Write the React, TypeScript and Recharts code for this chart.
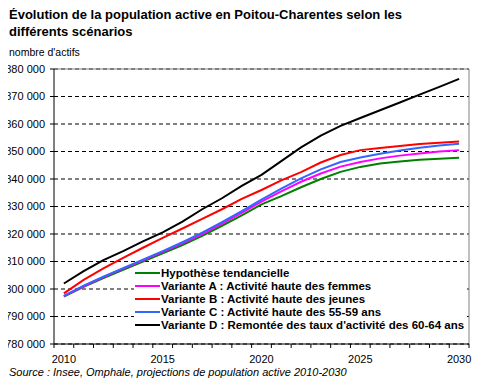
import { CartesianGrid, Legend, Line, LineChart, ReferenceLine, XAxis, YAxis } from 'recharts'

const years = [2010, 2011, 2012, 2013, 2014, 2015, 2016, 2017, 2018, 2019, 2020, 2021, 2022, 2023, 2024, 2025, 2026, 2027, 2028, 2029, 2030]

// en milliers d'actifs
const tendancielle = [797.2, 800.8, 804.0, 807.0, 810.0, 813.0, 816.0, 819.3, 823.0, 826.8, 830.8, 833.8, 837.0, 840.0, 842.6, 844.4, 845.6, 846.4, 847.0, 847.4, 847.7]
const varianteA = [797.4, 801.0, 804.3, 807.4, 810.4, 813.5, 816.6, 820.0, 823.8, 827.7, 831.8, 835.5, 839.0, 842.0, 844.5, 846.2, 847.5, 848.5, 849.3, 850.0, 850.5]
const varianteB = [798.4, 803.3, 807.5, 811.3, 815.0, 818.6, 822.0, 825.5, 829.0, 832.8, 836.0, 839.5, 842.5, 846.0, 848.7, 850.5, 851.3, 852.0, 852.7, 853.2, 853.6]
const varianteC = [797.5, 801.2, 804.5, 807.6, 810.7, 813.8, 817.0, 820.5, 824.3, 828.3, 832.5, 836.5, 840.2, 843.5, 846.2, 847.8, 849.2, 850.4, 851.4, 852.2, 852.8]
const varianteD = [802.0, 806.5, 810.5, 813.8, 817.3, 820.6, 824.5, 829.0, 833.0, 837.5, 841.5, 846.5, 851.5, 855.8, 859.3, 862.2, 865.0, 867.8, 870.7, 873.5, 876.4]

const yTicks = [780000, 790000, 800000, 810000, 820000, 830000, 840000, 850000, 860000, 870000, 880000]
const labelYears = [2010, 2015, 2020, 2025, 2030]

const series = [
  { key: 'tendancielle', name: 'Hypothèse tendancielle', color: '#008000', values: tendancielle },
  { key: 'varianteA', name: 'Variante A : Activité haute des femmes', color: '#ff00ff', values: varianteA },
  { key: 'varianteB', name: 'Variante B : Activité haute des jeunes', color: '#ff0000', values: varianteB },
  { key: 'varianteC', name: 'Variante C : Activité haute des 55-59 ans', color: '#3366ff', values: varianteC },
  { key: 'varianteD', name: "Variante D : Remontée des taux d'activité des 60-64 ans", color: '#000000', values: varianteD },
]

const data = years.map((year, i) => {
  const row: Record<string, number> = { year }
  series.forEach((s) => {
    row[s.key] = s.values[i] * 1000
  })
  return row
})

// tick marks between years, labels on every 5th year
const xTicks = [...years.map((y) => y - 0.5), years[years.length - 1] + 0.5, ...labelYears].sort((a, b) => a - b)

const font = '"Liberation Sans", Arial, sans-serif'

function YearTick({ x, y, payload }: any) {
  const v = payload.value
  if (!Number.isInteger(v)) {
    return <line x1={x} x2={x} y1={y - 4} y2={y} stroke="#000" />
  }
  return (
    <text x={x} y={y} dy={15} textAnchor="middle" fontSize={11} fontFamily={font} fill="#000">
      {v}
    </text>
  )
}

function formatThousands(v: number) {
  return `${Math.round(v / 1000)} 000`
}

function LegendBox({ payload }: any) {
  return (
    <div style={{ fontFamily: font, fontSize: 11.5, fontWeight: 'bold', color: '#000', background: '#fff', padding: '1px 0 4px 1px' }}>
      {(payload || []).map((entry: any) => (
        <div key={entry.value} style={{ display: 'flex', alignItems: 'center', height: 12.8, whiteSpace: 'nowrap' }}>
          <span style={{ display: 'inline-block', width: 25, height: 2, background: entry.color, marginRight: 1 }} />
          <span>{entry.value}</span>
        </div>
      ))}
    </div>
  )
}

export default function App() {
  return (
    <div style={{ position: 'relative', width: 481, height: 391, margin: -8, background: '#fff', fontFamily: font, color: '#000' }}>
      <LineChart width={481} height={391} data={data} margin={{ top: 69, right: 12, left: 0, bottom: 27 }}>
        <CartesianGrid vertical={false} stroke="#000" strokeDasharray="4 3" />
        <XAxis
          dataKey="year"
          type="number"
          domain={[2009.5, 2030.5]}
          ticks={xTicks}
          interval={0}
          height={20}
          tickSize={4}
          tickMargin={0}
          tickLine={false}
          axisLine={{ stroke: '#000' }}
          tick={<YearTick />}
        />
        <YAxis
          type="number"
          domain={[780000, 880000]}
          ticks={yTicks}
          interval={0}
          width={54}
          tickSize={4}
          tickMargin={5}
          tickFormatter={formatThousands}
          tick={{ fontSize: 11, fill: '#000', fontFamily: font }}
          axisLine={{ stroke: '#000' }}
          tickLine={{ stroke: '#000' }}
        />
        <ReferenceLine y={880000} stroke="#808080" />
        <ReferenceLine x={2030.5} stroke="#808080" />
        {series.map((s) => (
          <Line
            key={s.key}
            dataKey={s.key}
            name={s.name}
            stroke={s.color}
            strokeWidth={2}
            dot={false}
            type="linear"
            isAnimationActive={false}
          />
        ))}
        <Legend
          layout="vertical"
          align="center"
          verticalAlign="middle"
          content={<LegendBox />}
          wrapperStyle={{ left: 134, top: 266, width: 333, height: 'auto' }}
        />
      </LineChart>
      <div style={{ position: 'absolute', left: 9, top: 6, fontSize: 13, fontWeight: 'bold', lineHeight: '17px' }}>
        Évolution de la population active en Poitou-Charentes selon les
        <br />
        différents scénarios
      </div>
      <div style={{ position: 'absolute', left: 9, top: 46, fontSize: 10.5 }}>nombre d'actifs</div>
      <div style={{ position: 'absolute', left: 9, top: 366, fontSize: 11, fontStyle: 'italic' }}>
        Source : Insee, Omphale, projections de population active 2010-2030
      </div>
      {/* cadre */}
      <div
        style={{
          position: 'absolute',
          zIndex: 10,
          left: 0,
          top: 0,
          width: 479,
          height: 389,
          borderStyle: 'solid',
          borderWidth: 2,
          borderColor: '#000000',
          boxSizing: 'border-box',
          pointerEvents: 'none',
        }}
      />
    </div>
  )
}
